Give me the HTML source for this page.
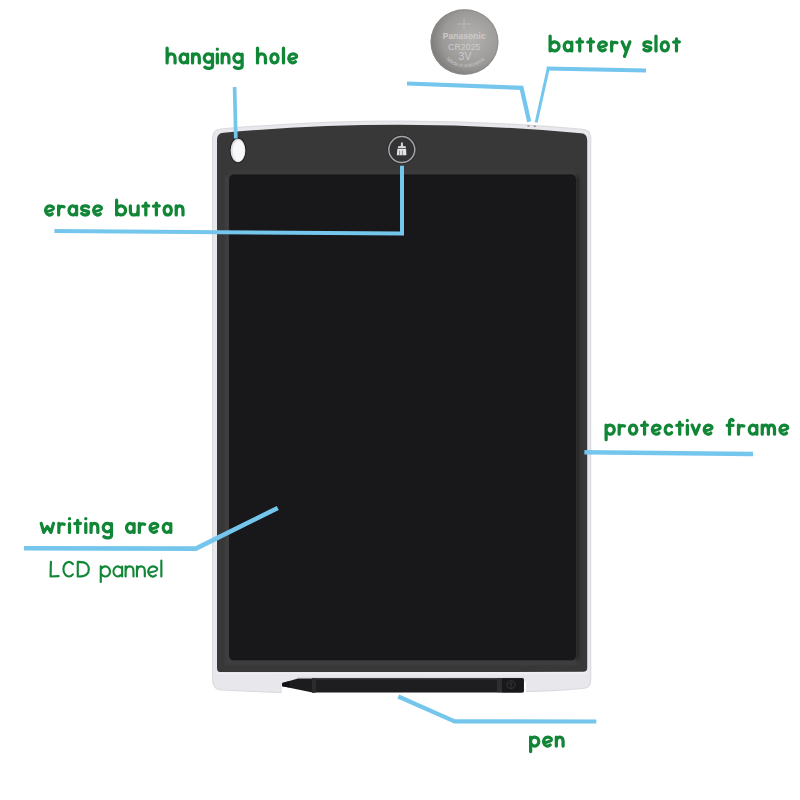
<!DOCTYPE html>
<html><head><meta charset="utf-8">
<style>
html,body{margin:0;padding:0;background:#fff;width:800px;height:800px;overflow:hidden}
svg{display:block}
.lb{font-family:"Liberation Sans",sans-serif;font-weight:bold;font-size:23px;fill:#108636}
.lr{font-family:"Liberation Sans",sans-serif;font-weight:normal;font-size:23px;fill:#108636}
</style></head>
<body>
<svg width="800" height="800" viewBox="0 0 800 800">
<defs>
  <radialGradient id="coin" cx="0.6" cy="0.45" r="0.6">
    <stop offset="0" stop-color="#b4b2b0"/>
    <stop offset="0.7" stop-color="#9c9a98"/>
    <stop offset="1" stop-color="#7e7c7a"/>
  </radialGradient>
  <linearGradient id="bez" x1="0" y1="0" x2="1" y2="0">
    <stop offset="0" stop-color="#3c3c3e"/>
    <stop offset="1" stop-color="#3a3a3c"/>
  </linearGradient>
  <filter id="blur" filterUnits="userSpaceOnUse" x="0" y="0" width="800" height="800"><feGaussianBlur stdDeviation="1.5"/></filter>
</defs>

<!-- coin -->
<ellipse cx="464.5" cy="42" rx="34" ry="32.8" fill="url(#coin)"/>
<ellipse cx="464.5" cy="42" rx="33.3" ry="32.1" fill="none" stroke="#8c8a88" stroke-width="1.2" opacity="0.6"/>
<g fill="#cdcbc9" font-family="Liberation Sans, sans-serif" text-anchor="middle">
  <path d="M457.5 24 h13.5 M464 18.5 v11" stroke="#c6c4c2" stroke-width="0.7" fill="none"/>
  <text x="464.3" y="38.5" font-size="8.6" font-weight="bold" letter-spacing="0.15" textLength="43" lengthAdjust="spacingAndGlyphs">Panasonic</text>
  <text x="464.3" y="49.5" font-size="9.2" textLength="32.5" lengthAdjust="spacingAndGlyphs">CR2025</text>
  <text x="465" y="60" font-size="10.5">3V</text>
  <g fill="#c8c6c4"><text x="0" y="0" font-size="5.2" text-anchor="middle" transform="translate(447.85 61.11) rotate(36.5)">M</text><text x="0" y="0" font-size="5.2" text-anchor="middle" transform="translate(450.82 63.12) rotate(31.5)">a</text><text x="0" y="0" font-size="5.2" text-anchor="middle" transform="translate(453.35 64.53) rotate(26.7)">d</text><text x="0" y="0" font-size="5.2" text-anchor="middle" transform="translate(456.02 65.72) rotate(21.2)">e</text><text x="0" y="0" font-size="5.2" text-anchor="middle" transform="translate(459.28 66.76) rotate(14.0)">i</text><text x="0" y="0" font-size="5.2" text-anchor="middle" transform="translate(461.30 67.17) rotate(9.4)">n</text><text x="0" y="0" font-size="5.2" text-anchor="middle" transform="translate(464.89 67.50) rotate(0.9)">I</text><text x="0" y="0" font-size="5.2" text-anchor="middle" transform="translate(467.05 67.43) rotate(-4.3)">n</text><text x="0" y="0" font-size="5.2" text-anchor="middle" transform="translate(469.90 67.05) rotate(-10.8)">d</text><text x="0" y="0" font-size="5.2" text-anchor="middle" transform="translate(472.70 66.36) rotate(-17.0)">o</text><text x="0" y="0" font-size="5.2" text-anchor="middle" transform="translate(475.43 65.37) rotate(-22.6)">n</text><text x="0" y="0" font-size="5.2" text-anchor="middle" transform="translate(478.07 64.14) rotate(-27.6)">e</text><text x="0" y="0" font-size="5.2" text-anchor="middle" transform="translate(480.44 62.79) rotate(-31.6)">s</text><text x="0" y="0" font-size="5.2" text-anchor="middle" transform="translate(482.04 61.75) rotate(-34.2)">i</text><text x="0" y="0" font-size="5.2" text-anchor="middle" transform="translate(483.68 60.58) rotate(-36.7)">a</text></g>
</g>

<!-- tablet frame -->
<path d="M212 138 Q212 128.8 221 128.4 Q402 112.2 582.5 128.8 Q591.3 129.4 591.3 138 L591.3 680 Q591.3 688.6 583 689 Q560 691.2 524.5 692.3 L281 693.3 L222 690.6 Q212 690.2 212 680 Z" fill="#dcdce0"/>
<path d="M213.3 138 Q213.3 130 221 129.6 Q402 113.5 582.5 130 Q590.1 130.6 590.1 138 L590.1 680 Q590.1 687.4 583 687.8 Q560 690 524.5 691.1 L281 692.1 L222 689.4 Q213.3 689 213.3 680 Z" fill="#e8e8ec"/>
<!-- bezel -->
<path d="M217 140 Q217 133 223.5 132.8 Q402 116.6 581 133.3 Q587.2 133.8 587.2 140 L587.2 668 Q587.2 671.8 583.2 671.8 L221 672.3 Q217 672.3 217 668 Z" fill="#383839"/>
<path d="M227.2 176 L227.2 662.6 L577 662.6" fill="none" stroke="#454547" stroke-width="3.2" filter="url(#blur)" opacity="0.75"/>
<path d="M576 172.4 L228 172.4" fill="none" stroke="#414143" stroke-width="2.5" filter="url(#blur)" opacity="0.6"/>
<path d="M577.5 176 L577.5 659" fill="none" stroke="#222224" stroke-width="3.5" filter="url(#blur)" opacity="0.9"/>
<!-- screen -->
<rect x="229.2" y="174.6" width="346.6" height="485.6" rx="4.5" fill="#141416"/>
<rect x="230" y="175.4" width="345" height="484" rx="4" fill="#18181a"/>

<!-- hanging hole -->
<ellipse cx="238" cy="150.5" rx="8.4" ry="12.9" fill="#202022"/>
<ellipse cx="238" cy="150.5" rx="7.4" ry="11.8" fill="#dedee2"/>
<ellipse cx="238.6" cy="150.8" rx="6" ry="10.5" fill="#f8f8fa"/>

<!-- erase button -->
<circle cx="401.8" cy="149.6" r="14.6" fill="#2a2a2c"/>
<circle cx="401.8" cy="149.6" r="12" fill="#333335"/>
<circle cx="401.8" cy="149.6" r="13" fill="none" stroke="#a6a6a8" stroke-width="1.5"/>
<path d="M401 142.6 L402.8 142.6 L403 146 L405.6 146.3 L406 148 L397.8 148 L398.2 146.3 L400.8 146 Z" fill="#d8d8da"/>
<path d="M397.4 148.8 L406.1 148.8 L406.4 155.2 L396.8 155.2 Z" fill="#e6e6e8"/>
<path d="M399.6 150.5 L399.4 155.2 M402.4 150.5 L402.4 155.2" stroke="#555" stroke-width="0.6"/>

<!-- notch (white under pen cone) -->
<path d="M281.2 683 L281.2 695 L526 695 L526 684 Q526 681.5 524 681 Z" fill="#fff"/>
<rect x="217" y="672.2" width="370" height="1.6" fill="#f1f1f4"/>
<rect x="298" y="676.8" width="226" height="1.1" fill="#dcdce0"/>
<path d="M281 683.2 Q281.3 693 281 693.3" stroke="#d8d8dc" stroke-width="0.8" fill="none"/>

<!-- pen -->
<path d="M282.2 683 L298 678.6 L314 678.4 L314 692.5 L312.5 692.4 L282.2 686.3 Z" fill="#1c1c1e"/>
<path d="M282.2 683 L289 681.2 L289.5 687.5 L282.2 686.3 Z" fill="#111113"/>
<rect x="312" y="678.3" width="211.8" height="14.3" rx="1.2" fill="#1e1e20"/>
<rect x="312" y="678.3" width="4" height="14.3" fill="#2c2c2e"/>
<rect x="314" y="678.5" width="209" height="1.5" fill="#2a2a2c"/>
<rect x="497" y="678.3" width="5" height="14" fill="#2e2e30"/>
<path d="M502 678.3 L522 678.3 Q523.8 678.3 523.8 680 L523.8 690.5 Q523.8 692.5 521 692.6 L502 692.6 Z" fill="#18181a"/>
<ellipse cx="511" cy="684.6" rx="4.2" ry="3.8" fill="none" stroke="#343436" stroke-width="1.1"/>
<path d="M511 681.5 L511 687.7 M508.8 683.2 Q511 686 513.2 683.2" fill="none" stroke="#343436" stroke-width="0.9"/>

<!-- battery slot marks -->
<rect x="527.4" y="125.3" width="2.2" height="1.3" fill="#8a8a8c"/>
<rect x="533.6" y="125.6" width="2.2" height="1.3" fill="#8a8a8c"/>

<!-- blue lines -->
<g fill="none" stroke="#74c6ec" stroke-linejoin="miter" stroke-linecap="butt">
  <path d="M234.6 87 L235.8 138.5" stroke-width="3.7"/>
  <path d="M407 83.5 L521.5 87.8 L529.2 121.8" stroke-width="4.2"/>
  <path d="M536.2 122.5 L548 69.5" stroke-width="3"/>
  <path d="M546.6 68.6 L646 70.6" stroke-width="4"/>
  <path d="M54.4 230.9 L402 233.6 L402 165.8" stroke-width="4"/>
  <path d="M24 548.2 L195.8 548.6 L277.8 508" stroke-width="4.6"/>
  <path d="M584.4 452.3 L753 454" stroke-width="4.4"/>
  <path d="M398.3 696.5 L454.6 721.3 L596.3 721.5" stroke-width="4.2"/>
</g>

<!-- labels -->
<g fill="none" stroke="#108636" stroke-linecap="round" stroke-linejoin="round">
<g stroke-width="3.25"><path transform="translate(165.50 64.5)" d="M1.62 -16.38 L1.62 -1.62 M1.62 -5.30 C1.93 -9.88 4.01 -10.68 5.60 -10.68 C8.78 -10.68 9.57 -9.18 9.57 -5.50 L9.57 -1.62"/><path transform="translate(178.41 64.5)" d="M7.66 -9.62 A3.68 4.53 0 1 0 7.90 -2.95 M9.18 -10.38 L9.18 -1.62"/><path transform="translate(190.92 64.5)" d="M1.62 -10.68 L1.62 -1.62 M1.62 -5.93 C1.93 -9.88 3.65 -10.68 5.00 -10.68 C7.70 -10.68 8.38 -9.18 8.38 -6.13 L8.38 -1.62"/><path transform="translate(202.62 64.5)" d="M8.24 -9.69 A4.03 4.23 0 1 0 8.50 -3.46 M9.88 -10.38 L9.88 1.27 C9.88 4.47 4.62 4.47 2.23 2.67"/><path transform="translate(215.83 64.5)" d="M1.50 -10.38 L1.50 -1.62 M1.50 -15.38 L1.50 -15.28"/><path transform="translate(220.54 64.5)" d="M1.62 -10.68 L1.62 -1.62 M1.62 -5.93 C1.93 -9.88 3.65 -10.68 5.00 -10.68 C7.70 -10.68 8.38 -9.18 8.38 -6.13 L8.38 -1.62"/><path transform="translate(232.25 64.5)" d="M8.24 -9.69 A4.03 4.23 0 1 0 8.50 -3.46 M9.88 -10.38 L9.88 1.27 C9.88 4.47 4.62 4.47 2.23 2.67"/></g>
<g stroke-width="3.25"><path transform="translate(255.90 64.5)" d="M1.62 -16.38 L1.62 -1.62 M1.62 -5.30 C1.93 -9.88 4.01 -10.68 5.60 -10.68 C8.78 -10.68 9.57 -9.18 9.57 -5.50 L9.57 -1.62"/><path transform="translate(269.17 64.5)" d="M5.30 -10.68 A3.67 4.53 0 1 0 5.31 -10.68 Z"/><path transform="translate(281.83 64.5)" d="M1.65 -16.38 L1.65 -1.62"/><path transform="translate(287.20 64.5)" d="M1.93 -4.85 C4.62 -5.35 9.27 -6.35 9.47 -7.95 C9.67 -10.08 6.80 -10.68 5.60 -10.68 A3.97 4.53 0 1 0 8.26 -2.79"/></g>
<g stroke-width="3.25"><path transform="translate(548.50 52.5)" d="M1.62 -16.38 L1.62 -1.62 M2.43 -8.75 A4.47 4.53 0 1 1 2.43 -3.55"/><path transform="translate(562.57 52.5)" d="M7.66 -9.62 A3.68 4.53 0 1 0 7.90 -2.95 M9.18 -10.38 L9.18 -1.62"/><path transform="translate(575.23 52.5)" d="M4.50 -13.57 L4.50 -1.62 M1.62 -10.48 L7.38 -10.68"/><path transform="translate(586.10 52.5)" d="M4.50 -13.57 L4.50 -1.62 M1.62 -10.48 L7.38 -10.68"/><path transform="translate(596.97 52.5)" d="M1.93 -4.85 C4.62 -5.35 9.27 -6.35 9.47 -7.95 C9.67 -10.08 6.80 -10.68 5.60 -10.68 A3.97 4.53 0 1 0 8.26 -2.79"/><path transform="translate(610.03 52.5)" d="M1.62 -10.68 L1.62 -1.62 M1.62 -6.15 C2.23 -10.08 3.97 -10.88 6.97 -9.78"/><path transform="translate(620.50 52.5)" d="M1.62 -10.68 L5.50 -2.02 M9.38 -10.68 L4.03 3.88"/></g>
<g stroke-width="3.25"><path transform="translate(642.25 52.5)" d="M8.57 -9.68 C6.77 -11.28 1.62 -11.18 1.62 -8.08 C1.62 -4.95 8.57 -6.35 8.57 -4.42 C8.57 -0.82 3.12 -1.02 1.62 -3.02"/><path transform="translate(654.33 52.5)" d="M1.65 -16.38 L1.65 -1.62"/><path transform="translate(659.52 52.5)" d="M5.30 -10.68 A3.67 4.53 0 1 0 5.31 -10.68 Z"/><path transform="translate(672.00 52.5)" d="M4.50 -13.57 L4.50 -1.62 M1.62 -10.48 L7.38 -10.68"/></g>
<g stroke-width="3.25"><path transform="translate(44.00 216.6)" d="M1.93 -4.85 C4.62 -5.35 9.27 -6.35 9.47 -7.95 C9.67 -10.08 6.80 -10.68 5.60 -10.68 A3.97 4.53 0 1 0 8.26 -2.79"/><path transform="translate(57.01 216.6)" d="M1.62 -10.68 L1.62 -1.62 M1.62 -6.15 C2.23 -10.08 3.97 -10.88 6.97 -9.78"/><path transform="translate(67.42 216.6)" d="M7.66 -9.62 A3.68 4.53 0 1 0 7.90 -2.95 M9.18 -10.38 L9.18 -1.62"/><path transform="translate(80.04 216.6)" d="M8.57 -9.68 C6.77 -11.28 1.62 -11.18 1.62 -8.08 C1.62 -4.95 8.57 -6.35 8.57 -4.42 C8.57 -0.82 3.12 -1.02 1.62 -3.02"/><path transform="translate(92.05 216.6)" d="M1.93 -4.85 C4.62 -5.35 9.27 -6.35 9.47 -7.95 C9.67 -10.08 6.80 -10.68 5.60 -10.68 A3.97 4.53 0 1 0 8.26 -2.79"/></g>
<g stroke-width="3.25"><path transform="translate(115.00 216.6)" d="M1.62 -16.38 L1.62 -1.62 M2.43 -8.75 A4.47 4.53 0 1 1 2.43 -3.55"/><path transform="translate(128.76 216.6)" d="M1.62 -10.68 L1.62 -5.55 C1.62 -1.43 4.50 -1.62 5.50 -1.62 C8.38 -1.62 9.28 -3.42 9.28 -6.15 M9.38 -10.68 L9.38 -1.62"/><path transform="translate(141.32 216.6)" d="M4.50 -13.57 L4.50 -1.62 M1.62 -10.48 L7.38 -10.68"/><path transform="translate(151.88 216.6)" d="M4.50 -13.57 L4.50 -1.62 M1.62 -10.48 L7.38 -10.68"/><path transform="translate(162.44 216.6)" d="M5.30 -10.68 A3.67 4.53 0 1 0 5.31 -10.68 Z"/><path transform="translate(174.60 216.6)" d="M1.62 -10.68 L1.62 -1.62 M1.62 -5.93 C1.93 -9.88 3.65 -10.68 5.00 -10.68 C7.70 -10.68 8.38 -9.18 8.38 -6.13 L8.38 -1.62"/></g>
<g stroke-width="3.25"><path transform="translate(39.60 534)" d="M1.62 -10.68 L4.19 -1.62 L7.75 -7.48 L11.31 -1.62 L13.88 -10.68"/><path transform="translate(57.25 534)" d="M1.62 -10.68 L1.62 -1.62 M1.62 -6.15 C2.23 -10.08 3.97 -10.88 6.97 -9.78"/><path transform="translate(68.00 534)" d="M1.50 -10.38 L1.50 -1.62 M1.50 -15.38 L1.50 -15.28"/><path transform="translate(73.15 534)" d="M4.50 -13.57 L4.50 -1.62 M1.62 -10.48 L7.38 -10.68"/><path transform="translate(84.30 534)" d="M1.50 -10.38 L1.50 -1.62 M1.50 -15.38 L1.50 -15.28"/><path transform="translate(89.45 534)" d="M1.62 -10.68 L1.62 -1.62 M1.62 -5.93 C1.93 -9.88 3.65 -10.68 5.00 -10.68 C7.70 -10.68 8.38 -9.18 8.38 -6.13 L8.38 -1.62"/><path transform="translate(101.60 534)" d="M8.24 -9.69 A4.03 4.23 0 1 0 8.50 -3.46 M9.88 -10.38 L9.88 1.27 C9.88 4.47 4.62 4.47 2.23 2.67"/></g>
<g stroke-width="3.25"><path transform="translate(124.90 534)" d="M7.66 -9.62 A3.68 4.53 0 1 0 7.90 -2.95 M9.18 -10.38 L9.18 -1.62"/><path transform="translate(137.73 534)" d="M1.62 -10.68 L1.62 -1.62 M1.62 -6.15 C2.23 -10.08 3.97 -10.88 6.97 -9.78"/><path transform="translate(148.37 534)" d="M1.93 -4.85 C4.62 -5.35 9.27 -6.35 9.47 -7.95 C9.67 -10.08 6.80 -10.68 5.60 -10.68 A3.97 4.53 0 1 0 8.26 -2.79"/><path transform="translate(161.60 534)" d="M7.66 -9.62 A3.68 4.53 0 1 0 7.90 -2.95 M9.18 -10.38 L9.18 -1.62"/></g>
<g stroke-width="2.15"><path transform="translate(49.50 577.6)" d="M1.38 -15.73 L1.07 -1.07 L9.12 -1.48"/><path transform="translate(62.35 577.6)" d="M10.51 -13.58 A5.53 7.33 0 1 0 10.51 -3.22"/><path transform="translate(76.70 577.6)" d="M1.07 -15.73 L1.07 -1.07 M1.07 -15.73 C10.12 -16.03 12.12 -12.23 12.12 -8.40 C12.12 -4.58 10.12 -0.77 1.07 -1.07"/></g>
<g stroke-width="2.15"><path transform="translate(99.70 577.6)" d="M1.07 -11.23 L1.07 4.42 M1.91 -9.06 A4.63 5.08 0 1 1 1.91 -3.24"/><path transform="translate(112.42 577.6)" d="M8.02 -10.04 A4.23 5.08 0 1 0 8.29 -2.56 M9.73 -10.93 L9.73 -1.07"/><path transform="translate(124.54 577.6)" d="M1.07 -11.23 L1.07 -1.07 M1.07 -5.90 C1.38 -10.43 3.43 -11.23 5.00 -11.23 C8.14 -11.23 8.93 -9.73 8.93 -6.10 L8.93 -1.07"/><path transform="translate(135.86 577.6)" d="M1.07 -11.23 L1.07 -1.07 M1.07 -5.90 C1.38 -10.43 3.43 -11.23 5.00 -11.23 C8.14 -11.23 8.93 -9.73 8.93 -6.10 L8.93 -1.07"/><path transform="translate(147.18 577.6)" d="M1.38 -4.85 C4.08 -5.35 9.82 -6.35 10.03 -7.95 C10.22 -10.63 6.80 -11.23 5.60 -11.23 A4.53 5.08 0 1 0 8.63 -2.38"/><path transform="translate(159.70 577.6)" d="M1.65 -16.93 L1.65 -1.07"/></g>
<g stroke-width="3.25"><path transform="translate(604.50 435.8)" d="M1.62 -10.68 L1.62 3.88 M2.36 -8.75 A4.08 4.53 0 1 1 2.36 -3.55"/><path transform="translate(617.55 435.8)" d="M1.62 -10.68 L1.62 -1.62 M1.62 -6.15 C2.23 -10.08 3.97 -10.88 6.97 -9.78"/><path transform="translate(627.80 435.8)" d="M5.30 -10.68 A3.67 4.53 0 1 0 5.31 -10.68 Z"/><path transform="translate(640.05 435.8)" d="M4.50 -13.57 L4.50 -1.62 M1.62 -10.48 L7.38 -10.68"/><path transform="translate(650.70 435.8)" d="M1.93 -4.85 C4.62 -5.35 9.27 -6.35 9.47 -7.95 C9.67 -10.08 6.80 -10.68 5.60 -10.68 A3.97 4.53 0 1 0 8.26 -2.79"/><path transform="translate(663.55 435.8)" d="M8.03 -9.18 A3.67 4.53 0 1 0 8.03 -3.12"/><path transform="translate(675.20 435.8)" d="M4.50 -13.57 L4.50 -1.62 M1.62 -10.48 L7.38 -10.68"/><path transform="translate(685.85 435.8)" d="M1.50 -10.38 L1.50 -1.62 M1.50 -15.38 L1.50 -15.28"/><path transform="translate(690.50 435.8)" d="M1.62 -10.68 L5.20 -1.62 L8.78 -10.68"/><path transform="translate(702.55 435.8)" d="M1.93 -4.85 C4.62 -5.35 9.27 -6.35 9.47 -7.95 C9.67 -10.08 6.80 -10.68 5.60 -10.68 A3.97 4.53 0 1 0 8.26 -2.79"/></g>
<g stroke-width="3.25"><path transform="translate(725.50 435.8)" d="M7.57 -15.38 C6.07 -16.88 4.00 -16.68 4.00 -13.18 L4.00 -1.62 M1.62 -10.48 L7.57 -10.48"/><path transform="translate(736.88 435.8)" d="M1.62 -10.68 L1.62 -1.62 M1.62 -6.15 C2.23 -10.08 3.97 -10.88 6.97 -9.78"/><path transform="translate(747.65 435.8)" d="M7.66 -9.62 A3.68 4.53 0 1 0 7.90 -2.95 M9.18 -10.38 L9.18 -1.62"/><path transform="translate(760.62 435.8)" d="M1.62 -10.68 L1.62 -1.62 M1.62 -6.26 C1.93 -9.88 3.46 -10.68 4.69 -10.68 C7.14 -10.68 7.75 -9.18 7.75 -6.46 L7.75 -1.62 M7.75 -6.26 C8.05 -9.88 9.59 -10.68 10.81 -10.68 C13.26 -10.68 13.88 -9.18 13.88 -6.46 L13.88 -1.62"/><path transform="translate(778.30 435.8)" d="M1.93 -4.85 C4.62 -5.35 9.27 -6.35 9.47 -7.95 C9.67 -10.08 6.80 -10.68 5.60 -10.68 A3.97 4.53 0 1 0 8.26 -2.79"/></g>
<g stroke-width="3.25"><path transform="translate(529.00 747.7)" d="M1.62 -10.68 L1.62 3.88 M2.36 -8.75 A4.08 4.53 0 1 1 2.36 -3.55"/><path transform="translate(541.95 747.7)" d="M1.93 -4.85 C4.62 -5.35 9.27 -6.35 9.47 -7.95 C9.67 -10.08 6.80 -10.68 5.60 -10.68 A3.97 4.53 0 1 0 8.26 -2.79"/><path transform="translate(554.70 747.7)" d="M1.62 -10.68 L1.62 -1.62 M1.62 -5.93 C1.93 -9.88 3.65 -10.68 5.00 -10.68 C7.70 -10.68 8.38 -9.18 8.38 -6.13 L8.38 -1.62"/></g>
</g>
</svg>
</body></html>
